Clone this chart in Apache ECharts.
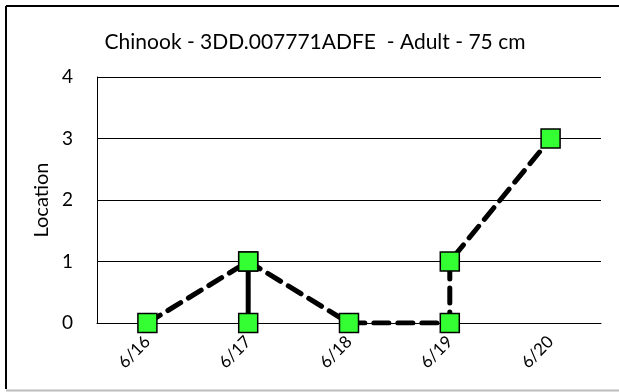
<!DOCTYPE html>
<html>
<head>
<meta charset="utf-8">
<script src="https://cdn.jsdelivr.net/npm/echarts@6/dist/echarts.min.js"></script>
<style>
  html, body { margin: 0; padding: 0; background: #fff; }
  #chart { width: 619px; height: 392px; }
</style>
</head>
<body>
<div id="chart"></div>
<script>
// Detection dates (x-axis categories)
const dates = ['6/16', '6/17', '6/18', '6/19', '6/20'];
// Sequence of detections: day index and location, in time order
const dayIndex = [0, 1, 1, 1, 2, 3, 3, 4];
const locationValues = [0, 1, 0, 1, 0, 0, 1, 3];
const yTicks = [0, 1, 2, 3, 4];
const titleText = 'Chinook - 3DD.007771ADFE  - Adult - 75 cm';

const points = dayIndex.map((d, i) => [d, locationValues[i]]);
const FONT = 'Lato, "Open Sans", sans-serif';

const chart = echarts.init(document.getElementById('chart'), null, { renderer: 'canvas' });
chart.setOption({
  backgroundColor: '#fff',
  animation: false,
  title: {
    text: titleText,
    left: 310, top: 27, textAlign: 'center',
    textStyle: { fontFamily: FONT, fontSize: 21, fontWeight: 'normal', color: '#000' }
  },
  graphic: [
    { type: 'line', shape: { x1: 6, y1: 6, x2: 619, y2: 6 }, style: { stroke: '#000', lineWidth: 2 } },
    { type: 'line', shape: { x1: 6, y1: 6, x2: 6, y2: 389 }, style: { stroke: '#000', lineWidth: 2 } },
    { type: 'line', shape: { x1: 6, y1: 390.5, x2: 619, y2: 390.5 }, style: { stroke: '#bbb', lineWidth: 2 } }
  ],
  grid: { left: 97, right: 18, top: 77, bottom: 69, containLabel: false },
  xAxis: {
    type: 'category',
    data: dates,
    boundaryGap: true,
    axisLine: { show: true, lineStyle: { color: '#000', width: 1 } },
    axisTick: { show: false },
    axisLabel: { rotate: 45, margin: 16, fontFamily: FONT, fontSize: 17, color: '#000' },
    splitLine: { show: false }
  },
  yAxis: {
    type: 'value',
    min: yTicks[0], max: yTicks[yTicks.length - 1], interval: 1,
    name: 'Location',
    nameLocation: 'middle',
    nameGap: 44,
    nameTextStyle: { fontFamily: FONT, fontSize: 20, color: '#000' },
    axisLine: { show: true, lineStyle: { color: '#000', width: 1 } },
    axisTick: { show: false },
    axisLabel: { margin: 24, fontFamily: FONT, fontSize: 19, color: '#000' },
    splitLine: { show: true, lineStyle: { color: '#000', width: 1 } }
  },
  series: [{
    type: 'line',
    data: points,
    symbol: 'rect',
    symbolSize: 19,
    itemStyle: { color: '#33ff33', borderColor: '#000', borderWidth: 1.5 },
    lineStyle: { color: '#000', width: 5, type: [15, 9], cap: 'round' },
    z: 3
  }]
});
</script>
</body>
</html>
